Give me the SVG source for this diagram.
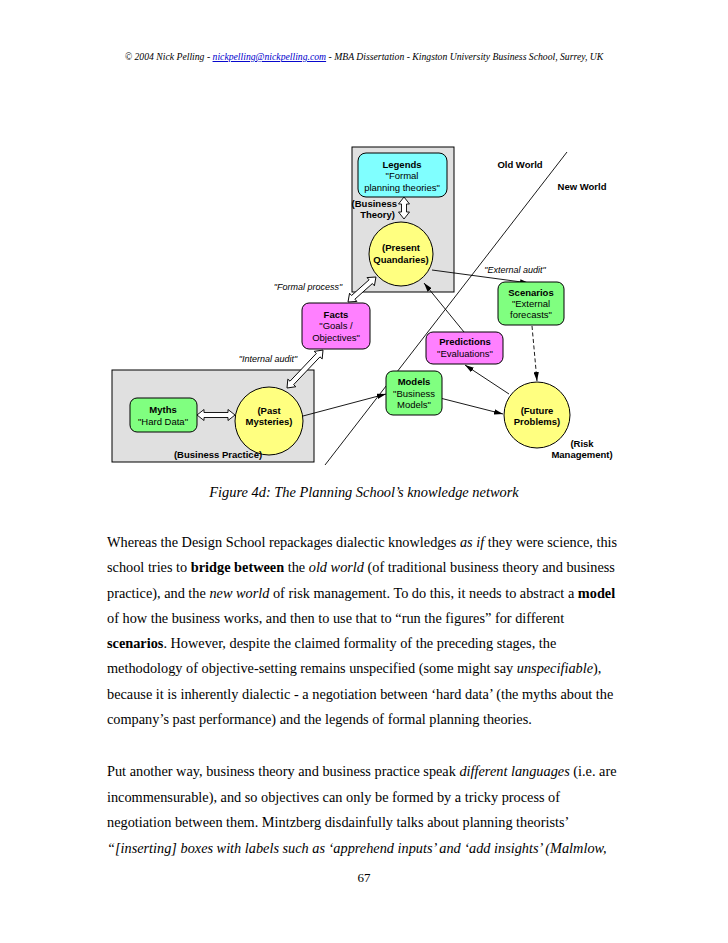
<svg xmlns="http://www.w3.org/2000/svg" width="728" height="943" viewBox="0 0 728 943">
<defs>
<style>
.bg{fill:#ffffff}
.box{fill:#e0e0e0;stroke:#000;stroke-width:1}
.cyan{fill:#80ffff;stroke:#000;stroke-width:1}
.mag{fill:#ff80ff;stroke:#000;stroke-width:1}
.grn{fill:#80ff80;stroke:#000;stroke-width:1}
.yel{fill:#ffff80;stroke:#000;stroke-width:1}
.dbl{fill:#ffffff;stroke:#000;stroke-width:0.9}
.ln{fill:none;stroke:#000;stroke-width:0.9}
.dash{stroke-dasharray:4 2.5}
.nt{font-family:"Liberation Sans",Arial,sans-serif;font-size:9.5px;text-anchor:middle;fill:#000}
.b{font-weight:bold}
.end{text-anchor:end}
.lab{font-family:"Liberation Sans",Arial,sans-serif;font-size:9px;font-style:italic;text-anchor:middle;fill:#000}
.serif{font-family:"Liberation Serif","Times New Roman",serif;fill:#000}
.body{font-family:"Liberation Serif","Times New Roman",serif;font-size:14.3px;fill:#000}
</style>
<marker id="ah" viewBox="0 0 10 6" refX="10" refY="3" markerWidth="9" markerHeight="5.4" markerUnits="userSpaceOnUse" orient="auto">
<path d="M0,0 L10,3 L0,6 z" fill="#000"/>
</marker>
</defs>
<rect class="bg" x="0" y="0" width="728" height="943"/>

<text class="serif" x="364" y="60" font-size="9.7" font-style="italic" text-anchor="middle">© 2004 Nick Pelling - <tspan fill="#0000cc" text-decoration="underline">nickpelling@nickpelling.com</tspan> - MBA Dissertation - Kingston University Business School, Surrey, UK</text>

<g id="business-theory">
<rect class="box" x="352" y="147" width="102" height="145"/>
<text class="nt b end" x="397" y="207" font-size="9">(Business</text>
<text class="nt b end" x="395" y="218" font-size="9">Theory)</text>
</g>
<g id="business-practice">
<rect class="box" x="112" y="370" width="202" height="92"/>
</g>

<g id="world-divider">
<line class="ln" x1="567" y1="152" x2="325" y2="465"/>
<text class="nt b" x="520" y="168">Old World</text>
<text class="nt b" x="582" y="190">New World</text>
</g>

<g id="connectors">
<line class="ln" x1="432" y1="270" x2="529" y2="283" marker-end="url(#ah)"/>
<line class="ln dash" x1="532" y1="326" x2="537" y2="381" marker-end="url(#ah)"/>
<line class="ln" x1="509" y1="394" x2="465" y2="365" marker-end="url(#ah)"/>
<line class="ln" x1="464" y1="332" x2="424" y2="283" marker-end="url(#ah)"/>
<line class="ln" x1="303" y1="416" x2="386" y2="394" marker-end="url(#ah)"/>
<line class="ln" x1="440" y1="398" x2="503" y2="414" marker-end="url(#ah)"/>
<polygon class="dbl" transform="translate(404,197) rotate(90)" points="0,0 7,-5.5 7,-2.5 15,-2.5 15,-5.5 22,0 15,5.5 15,2.5 7,2.5 7,5.5"/>
<polygon class="dbl" transform="translate(197,415)" points="0,0 7,-5.5 7,-2.5 31,-2.5 31,-5.5 38,0 31,5.5 31,2.5 7,2.5 7,5.5"/>
<polygon class="dbl" transform="translate(348,302) rotate(-41.8)" points="0,0 7,-5.5 7,-2.5 30.5,-2.5 30.5,-5.5 37.5,0 30.5,5.5 30.5,2.5 7,2.5 7,5.5"/>
<polygon class="dbl" transform="translate(287,388) rotate(-46.5)" points="0,0 7,-5.5 7,-2.5 45.3,-2.5 45.3,-5.5 52.3,0 45.3,5.5 45.3,2.5 7,2.5 7,5.5"/>
<text class="lab" x="308" y="290">"Formal process"</text>
<text class="lab" x="268" y="362">"Internal audit"</text>
<text class="lab" x="515" y="273">"External audit"</text>
</g>

<g id="legends">
<rect class="cyan" x="358" y="153" width="89" height="44" rx="8"/>
<text class="nt b" x="402" y="168">Legends</text>
<text class="nt" x="402" y="179">"Formal</text>
<text class="nt" x="402" y="191">planning theories"</text>
</g>
<g id="present">
<circle class="yel" cx="401" cy="254" r="32"/>
<text class="nt b" x="401" y="251">(Present</text>
<text class="nt b" x="401" y="263">Quandaries)</text>
</g>
<g id="facts">
<rect class="mag" x="302" y="303" width="68" height="46" rx="7"/>
<text class="nt b" x="336" y="318">Facts</text>
<text class="nt" x="336" y="329">"Goals /</text>
<text class="nt" x="336" y="341">Objectives"</text>
</g>
<g id="scenarios">
<rect class="grn" x="498" y="282" width="66" height="43" rx="7"/>
<text class="nt b" x="531" y="296">Scenarios</text>
<text class="nt" x="531" y="307">"External</text>
<text class="nt" x="531" y="318">forecasts"</text>
</g>
<g id="predictions">
<rect class="mag" x="426" y="332" width="77" height="32" rx="7"/>
<text class="nt b" x="465" y="345">Predictions</text>
<text class="nt" x="465" y="357">"Evaluations"</text>
</g>
<g id="models">
<rect class="grn" x="386" y="371" width="56" height="44" rx="7"/>
<text class="nt b" x="414" y="385">Models</text>
<text class="nt" x="414" y="397">"Business</text>
<text class="nt" x="414" y="408">Models"</text>
</g>
<g id="future">
<circle class="yel" cx="537" cy="415" r="33"/>
<text class="nt b" x="537" y="414">(Future</text>
<text class="nt b" x="537" y="425">Problems)</text>
<text class="nt b" x="582" y="447">(Risk</text>
<text class="nt b" x="582" y="458">Management)</text>
</g>
<g id="myths">
<rect class="grn" x="130" y="398" width="67" height="34" rx="7"/>
<text class="nt b" x="163" y="413">Myths</text>
<text class="nt" x="163" y="425">"Hard Data"</text>
</g>
<g id="past">
<circle class="yel" cx="269" cy="421" r="34"/>
<text class="nt b" x="269" y="414">(Past</text>
<text class="nt b" x="269" y="425">Mysteries)</text>
</g>
<g id="business-practice-label">
<text class="nt b" x="218" y="458">(Business Practice)</text>
</g>

<text class="serif" x="364" y="497" font-size="14.4" font-style="italic" text-anchor="middle">Figure 4d: The Planning School’s knowledge network</text>

<g class="body">
<text x="107" y="547">Whereas the Design School repackages dialectic knowledges <tspan font-style="italic">as if</tspan> they were science, this</text>
<text x="107" y="572">school tries to <tspan font-weight="bold">bridge between</tspan> the <tspan font-style="italic">old world</tspan> (of traditional business theory and business</text>
<text x="107" y="598">practice), and the <tspan font-style="italic">new world</tspan> of risk management. To do this, it needs to abstract a <tspan font-weight="bold">model</tspan></text>
<text x="107" y="623">of how the business works, and then to use that to “run the figures” for different</text>
<text x="107" y="648"><tspan font-weight="bold">scenarios</tspan>. However, despite the claimed formality of the preceding stages, the</text>
<text x="107" y="673">methodology of objective-setting remains unspecified (some might say <tspan font-style="italic">unspecifiable</tspan>),</text>
<text x="107" y="699">because it is inherently dialectic - a negotiation between ‘hard data’ (the myths about the</text>
<text x="107" y="724">company’s past performance) and the legends of formal planning theories.</text>
<text x="107" y="776">Put another way, business theory and business practice speak <tspan font-style="italic">different languages</tspan> (i.e. are</text>
<text x="107" y="802">incommensurable), and so objectives can only be formed by a tricky process of</text>
<text x="107" y="827">negotiation between them. Mintzberg disdainfully talks about planning theorists’</text>
<text x="107" y="853" font-style="italic">“[inserting] boxes with labels such as ‘apprehend inputs’ and ‘add insights’ (Malmlow,</text>
<text x="364" y="882" font-size="13" text-anchor="middle">67</text>
</g>
</svg>
